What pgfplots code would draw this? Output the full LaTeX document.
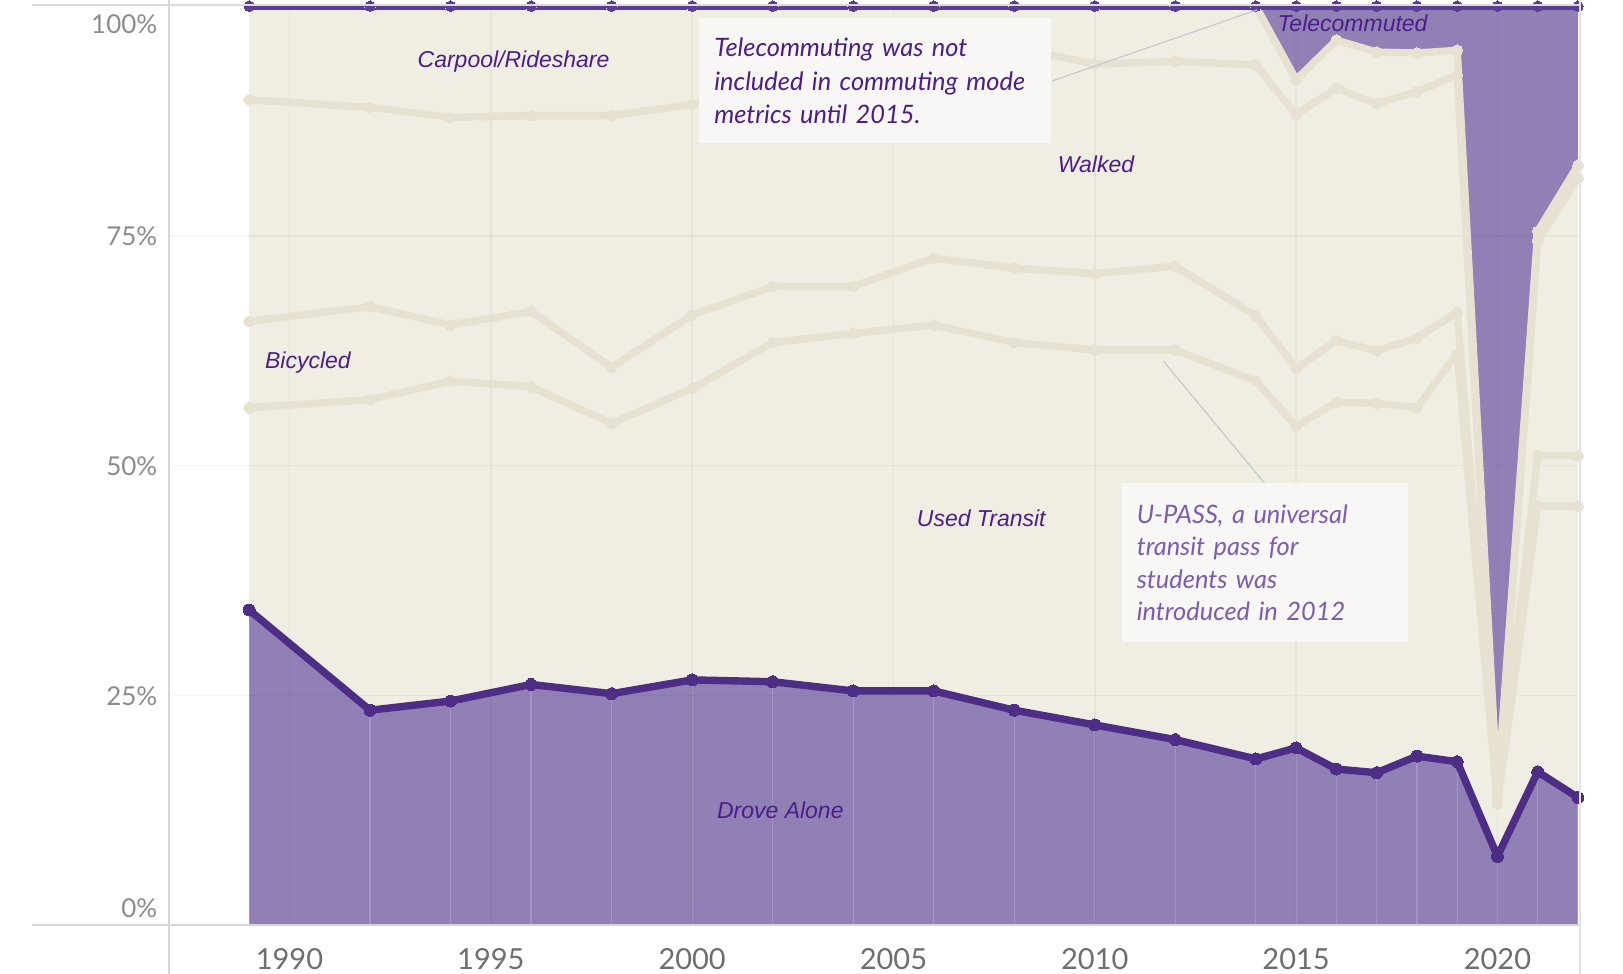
\documentclass[border=0pt]{standalone}
\usepackage{fontspec}
\setmainfont{Lato}
\newfontfamily\arialfont{Liberation Sans}
\usepackage{pgfplots}
\usepackage{pgfplotstable}
\pgfplotsset{compat=1.18}
\definecolor{purpleFill}{HTML}{9180B5}
\definecolor{purpleLine}{HTML}{4E2D87}
\definecolor{purpleTop}{HTML}{5B3C97}
\definecolor{creamFill}{HTML}{F0EDE2}
\definecolor{creamLine}{HTML}{E7E1D2}
\definecolor{labelPurple}{HTML}{4B1E8A}
\definecolor{notePurple}{HTML}{7B5CB0}
\definecolor{noteFill}{HTML}{F8F7F5}
\definecolor{leader}{HTML}{C6C9D3}

% cumulative share (%) at the top of each mode band
\pgfplotstableread{
year drove transit bike walk carpool top
1989 34.3 56.3 65.7 89.8 100 100
1992 23.4 57.2 67.3 89.0 100 100
1994 24.4 59.2 65.3 87.9 100 100
1996 26.2 58.6 66.8 88.1 100 100
1998 25.2 54.6 60.7 88.1 100 100
2000 26.7 58.4 66.4 89.3 100 100
2002 26.5 63.4 69.5 91.5 100 100
2004 25.5 64.4 69.5 93.0 100 100
2006 25.5 65.3 72.6 94.5 100 100
2008 23.4 63.4 71.5 95.5 100 100
2010 21.8 62.6 70.9 93.7 100 100
2012 20.2 62.6 71.7 94.0 100 100
2014 18.1 59.2 66.3 93.6 100 100
2015 19.3 54.3 60.6 88.2 92.0 100
2016 17.0 56.9 63.6 91.1 96.3 100
2017 16.6 56.8 62.5 89.4 95.0 100
2018 18.4 56.3 63.9 90.7 94.9 100
2019 17.8 62.2 66.7 92.5 95.2 100
2020 7.5 13.2 13.6 14.0 14.4 100
2021 16.7 45.6 51.1 74.5 75.5 100
2022 13.9 45.6 51.1 81.3 82.7 100
}\modes

\tikzset{
  creamline/.style={creamLine, line width=3.7pt, line join=round,
    mark=*, mark size=2.7pt, mark options={draw=creamLine, fill=creamLine, line width=0pt}},
  arealabel/.style={anchor=base, text=labelPurple,
    font=\arialfont\itshape\fontsize{11.5}{13}\selectfont},
}

\begin{document}
\begin{tikzpicture}
\begin{axis}[
  name=ax, at={(0,0)}, anchor=south west,
  scale only axis, width=705.65pt, height=459.55pt,
  xmin=1987, xmax=2022.05, ymin=0, ymax=100,
  set layers,
  axis line style={draw=none},
  xtick={1990,1995,...,2020},
  ytick={0,25,50,75,100},
  yticklabels={\raisebox{8.8pt}{0\%},25\%,50\%,75\%,\raisebox{-8.8pt}{100\%}},
  major tick length=0pt,
  grid=major,
  grid style={black, opacity=0.035, line width=0.7pt},
  /pgf/number format/1000 sep={},
  /pgf/number format/assume math mode=true,
  xticklabel style={font=\fontsize{14.5}{16}\selectfont, text=black!57,
    anchor=north, inner sep=0pt, yshift=-11.5pt},
  yticklabel style={font=\fontsize{13}{15}\selectfont, text=black!45,
    anchor=base east, inner sep=0pt, xshift=-5.5pt, yshift=-4.9pt},
]
% areas
\addplot[on layer=axis background, fill=purpleFill, draw=none] table[x=year,y=top]{\modes} \closedcycle;
\addplot[on layer=axis background, fill=creamFill, draw=none] table[x=year,y=carpool]{\modes} \closedcycle;
\addplot[on layer=axis background, fill=purpleFill, draw=none] table[x=year,y=drove]{\modes} \closedcycle;
\addplot[on layer=axis background, ycomb, draw=white, draw opacity=0.18, line width=0.6pt, mark=none] table[x=year,y=drove]{\modes};

% band edges
\addplot[creamline] table[x=year,y=transit]{\modes};
\addplot[creamline] table[x=year,y=bike]{\modes};
\addplot[creamline] table[x=year,y=walk]{\modes};
\addplot[creamline] table[x=year,y=carpool]{\modes};
\addplot[purpleTop, line width=3.8pt, mark=*, mark size=2.6pt,
  mark options={fill=purpleTop, draw=purpleTop, line width=0pt}] table[x=year,y=top]{\modes};
\addplot[purpleLine, line width=3.7pt, line join=round, mark=*, mark size=3pt,
  mark options={fill=purpleLine, draw=purpleLine, line width=0pt}] table[x=year,y=drove]{\modes};

\begin{pgfonlayer}{axis foreground}
% area labels
\node[arealabel] at (axis cs:1995.565,93.35) {Carpool/Rideshare};
\node[arealabel] at (axis cs:2010.03,81.87) {Walked};
\node[arealabel] at (axis cs:1990.457,60.60) {Bicycled};
\node[arealabel] at (axis cs:2007.18,43.36) {Used Transit};
\node[arealabel] at (axis cs:2002.19,11.64) {Drove Alone};
\node[arealabel] at (axis cs:2016.40,97.23) {Telecommuted};

% annotations
\draw[leader, line width=0.6pt] (axis cs:2008.94,91.87) -- (axis cs:2014.03,99.6);
\node[anchor=north west, fill=noteFill, inner xsep=7.5pt, inner ysep=0pt,
  minimum height=62.5pt, text width=161pt, align=left, text=labelPurple,
  font=\itshape\fontsize{12.7}{16.7}\selectfont]
  at (axis cs:2000.17,98.72) {Telecommuting was not\\included in commuting mode\\metrics until 2015.};
\draw[leader, line width=0.6pt] (axis cs:2011.70,61.4) -- (axis cs:2014.21,48.13);
\node[anchor=north west, fill=noteFill, inner xsep=7.5pt, inner ysep=0pt,
  minimum height=79.5pt, text width=128pt, align=left, text=notePurple,
  font=\itshape\fontsize{12.7}{16.25}\selectfont]
  at (axis cs:2010.66,48.13) {U-PASS, a universal\\transit pass for\\students was\\introduced in 2012};
\end{pgfonlayer}
\end{axis}
% pane borders
\draw[black!14, line width=1pt] (-68.35pt,460.05pt) -- (705.65pt,460.05pt);
\draw[black!16, line width=1pt] (-68.35pt,0pt) -- (705.65pt,0pt);
\draw[black!16, line width=1pt] (0pt,462.65pt) -- (0pt,-24.35pt);
\draw[black!11, line width=1pt] (705.65pt,462.65pt) -- (705.65pt,-24.35pt);
\pgfresetboundingbox
\path[use as bounding box] (-84.35pt,-24.35pt) rectangle (727.15pt,462.65pt);
\end{tikzpicture}
\end{document}
